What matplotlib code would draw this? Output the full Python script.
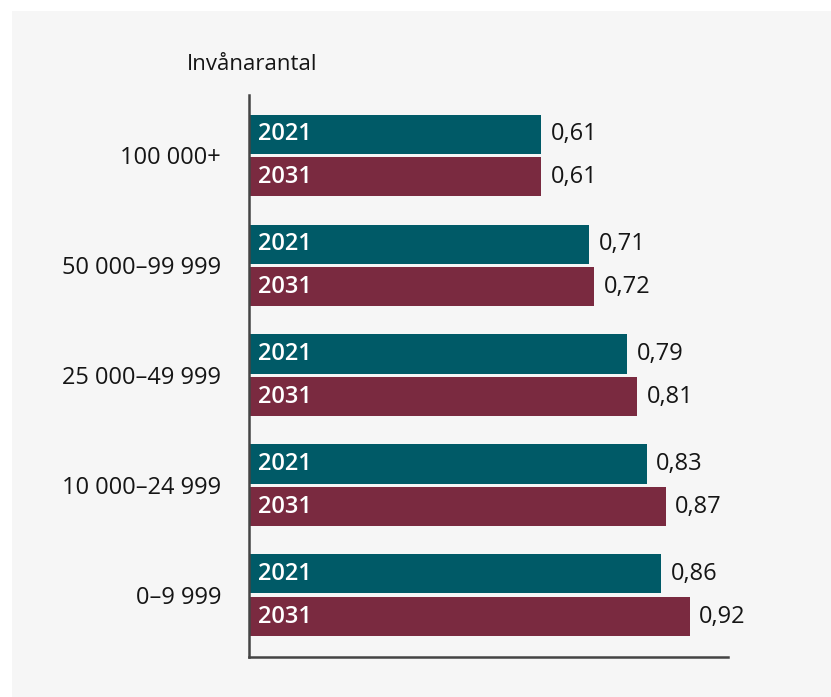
import numpy as np
import matplotlib.pyplot as plt
from matplotlib.patches import Rectangle

# Inhabitant-size groups and index values for 2021 and 2031
categories = ["100 000+", "50 000–99 999", "25 000–49 999", "10 000–24 999", "0–9 999"]
years = ["2021", "2031"]
values_2021 = [0.61, 0.71, 0.79, 0.83, 0.86]
values_2031 = [0.61, 0.72, 0.81, 0.87, 0.92]

teal = "#005a67"
maroon = "#7a2a40"
bg = "#f6f6f6"

plt.rcParams['font.family'] = ['Open Sans', 'DejaVu Sans']

W, H = 831, 697
fig = plt.figure(figsize=(W / 100, H / 100), dpi=100)
fig.patch.set_facecolor("white")
# light grey panel behind the chart
fig.add_artist(Rectangle((12 / W, 0), 1 - 12 / W, 1 - 11 / H,
                         transform=fig.transFigure, facecolor=bg,
                         edgecolor="none", zorder=-10))

ax = fig.add_axes([249 / W, 40 / H, (728 - 249) / W, (657 - 95) / H])
ax.set_facecolor("none")

y = np.arange(len(categories))
h = 0.355
off = 0.195

bars1 = ax.barh(y - off, values_2021, height=h, color=teal)
bars2 = ax.barh(y + off, values_2031, height=h, color=maroon)

for bars, vals, yr in [(bars1, values_2021, years[0]), (bars2, values_2031, years[1])]:
    for b, v in zip(bars, vals):
        cy = b.get_y() + b.get_height() / 2
        ax.text(0.018, cy, yr, color="white", fontweight="semibold",
                fontsize=17, va="center", ha="left")
        ax.text(v + 0.02, cy, f"{v:.2f}".replace(".", ","), color="#151515",
                fontsize=17, va="center", ha="left")

ax.set_xlim(0, 1.0)
ax.set_ylim(len(categories) - 1 + 0.56, -0.55)
ax.set_yticks(y)
ax.set_yticklabels(categories, fontsize=17, color="#151515")
ax.tick_params(axis="y", length=0, pad=20)
ax.set_xticks([])

for s in ["top", "right"]:
    ax.spines[s].set_visible(False)
for s in ["left", "bottom"]:
    ax.spines[s].set_color("#444444")
    ax.spines[s].set_linewidth(1.8)

fig.text(187 / W, 1 - 64 / H, "Invånarantal", fontsize=16, color="#151515",
         ha="left", va="center")

fig.savefig("out.png", dpi=100, facecolor=fig.get_facecolor())
